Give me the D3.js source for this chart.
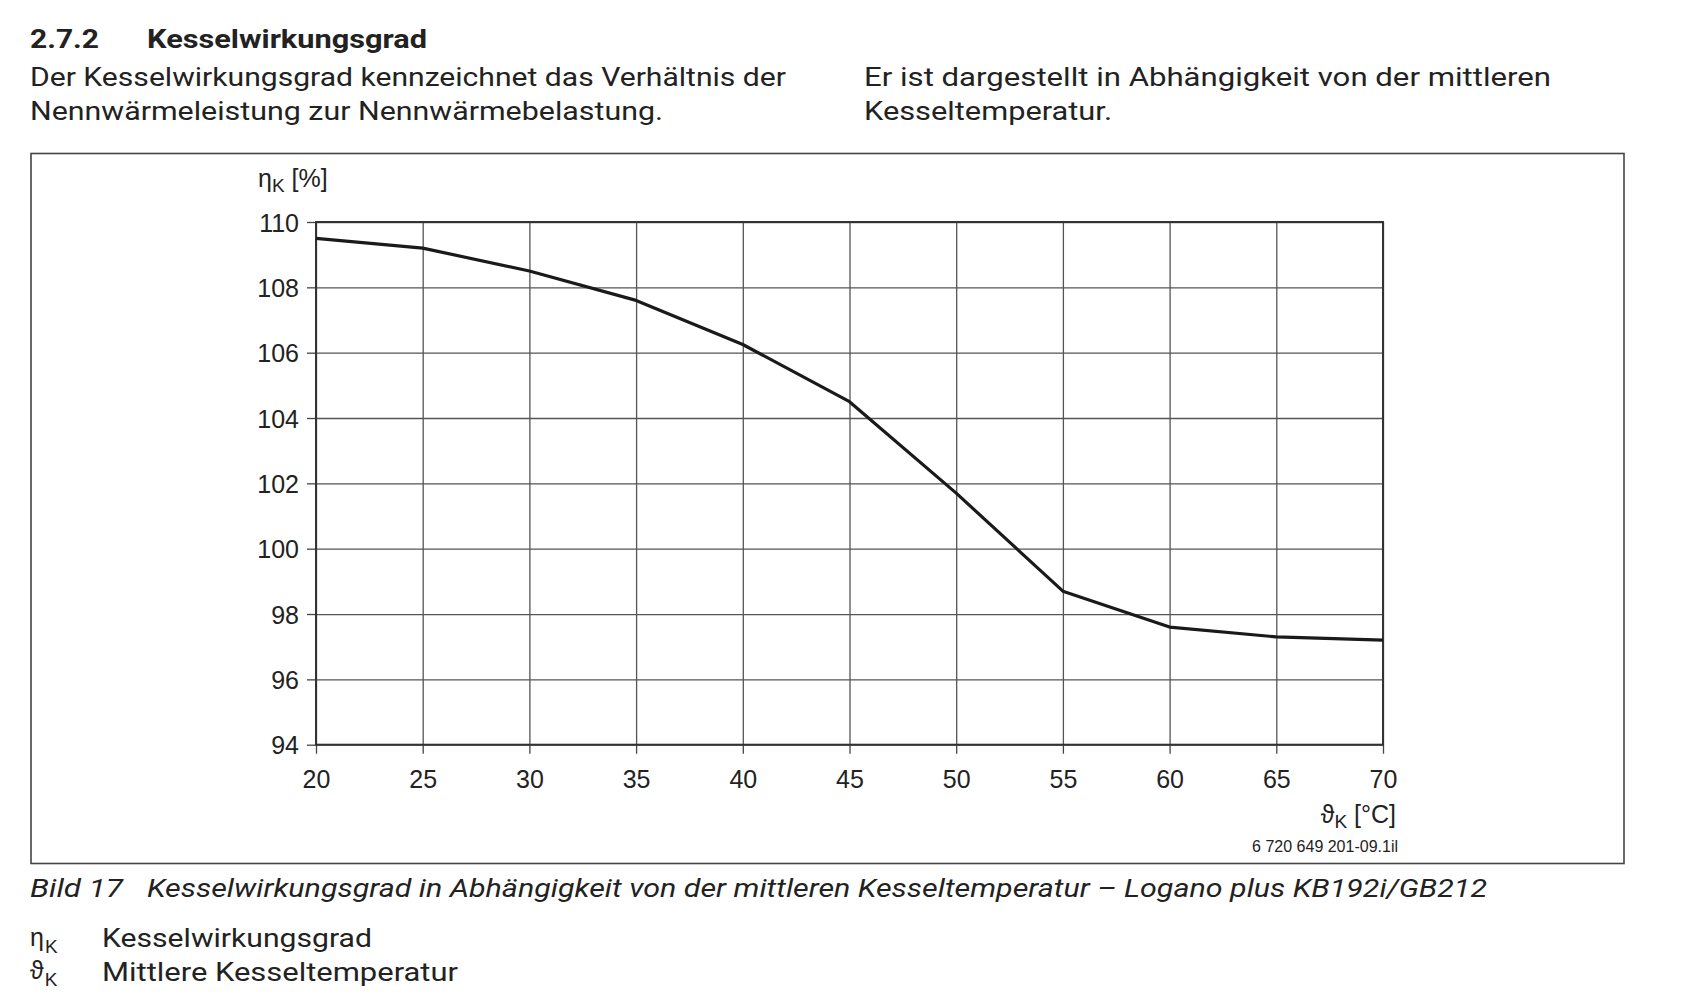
<!DOCTYPE html>
<html><head><meta charset="utf-8">
<script src="https://cdn.jsdelivr.net/npm/d3@7"></script>
<style>
html,body{margin:0;padding:0;background:#fff;}
svg{display:block;}
.body{font-family:"Roboto","Open Sans",sans-serif;fill:#222;}
.ax{font-family:"Liberation Sans",Arial,sans-serif;fill:#222;}
</style></head>
<body>
<svg id="c" width="1683" height="995"></svg>
<script>
// ---- data ----
const temperature = [20, 25, 30, 35, 40, 45, 50, 55, 60, 65, 70];
const efficiency = [109.5, 109.2, 108.5, 107.6, 106.25, 104.5, 101.7, 98.7, 97.6, 97.3, 97.2];
const xTicks = [20, 25, 30, 35, 40, 45, 50, 55, 60, 65, 70];
const yTicks = [94, 96, 98, 100, 102, 104, 106, 108, 110];

const svg = d3.select("#c");
svg.append("rect").attr("width",1683).attr("height",995).attr("fill","#fff");

// ---- page text ----
function txt(x, y, s, size, opts = {}) {
  const t = svg.append("text").attr("class","body").attr("x",x).attr("y",y)
    .attr("font-size",size).text(s);
  if (opts.weight) t.attr("font-weight",opts.weight);
  if (opts.style) t.attr("font-style",opts.style);
  if (opts.len) t.attr("textLength",opts.len).attr("lengthAdjust","spacingAndGlyphs");
  return t;
}
txt(30, 48, "2.7.2", 25, {weight:"bold", len:69});
txt(147, 48, "Kesselwirkungsgrad", 25, {weight:"bold", len:280});
txt(30, 86, "Der Kesselwirkungsgrad kennzeichnet das Verhältnis der", 25, {len:756});
txt(30, 120, "Nennwärmeleistung zur Nennwärmebelastung.", 25, {len:633});
txt(864, 86, "Er ist dargestellt in Abhängigkeit von der mittleren", 25, {len:687});
txt(864, 120, "Kesseltemperatur.", 25, {len:248});

txt(30, 897, "Bild 17", 25, {style:"italic", len:93});
txt(147, 897, "Kesselwirkungsgrad in Abhängigkeit von der mittleren Kesseltemperatur – Logano plus KB192i/GB212", 25, {style:"italic", len:1340});

// legend symbols
function sym(x, y, gl) {
  const t = svg.append("text").attr("class","ax").attr("x",x).attr("y",y).attr("font-size",25);
  t.append("tspan").text(gl);
  t.append("tspan").attr("font-size",19).attr("dy",7).attr("dx",1).text("K");
  return t;
}
sym(30, 946, "η");
txt(102, 947, "Kesselwirkungsgrad", 25, {len:270});
sym(30, 979, "ϑ");
txt(102, 981, "Mittlere Kesseltemperatur", 25, {len:356});

// outer frame
svg.append("rect").attr("x",31).attr("y",153.5).attr("width",1593).attr("height",710)
  .attr("fill","none").attr("stroke","#444").attr("stroke-width",1.6);

// ---- chart ----
const L = 316, R = 1383, T = 222, B = 744.7;
const x = d3.scaleLinear().domain([20,70]).range([L,R]);
const y = d3.scaleLinear().domain([94,110]).range([B,T]);

const g = svg.append("g");
// grid
g.append("g").attr("transform",`translate(0,${B})`)
  .call(d3.axisBottom(x).tickValues(xTicks).tickSize(-(B-T)).tickFormat(""))
  .call(s=>s.select(".domain").remove())
  .call(s=>s.selectAll("line").attr("stroke","#555").attr("stroke-width",1.3));
g.append("g").attr("transform",`translate(${L},0)`)
  .call(d3.axisLeft(y).tickValues(yTicks).tickSize(-(R-L)).tickFormat(""))
  .call(s=>s.select(".domain").remove())
  .call(s=>s.selectAll("line").attr("stroke","#555").attr("stroke-width",1.3));

// axes with ticks + labels
const ya = g.append("g").attr("transform",`translate(${L},0)`)
  .call(d3.axisLeft(y).tickValues(yTicks).tickSize(9).tickPadding(8));
ya.select(".domain").remove();
ya.selectAll("line").attr("stroke","#444").attr("stroke-width",1.3);
ya.selectAll("text").attr("font-size",25).attr("fill","#222")
  .attr("font-family","Liberation Sans, Arial, sans-serif").attr("dy","0.36em");

const xa = g.append("g").attr("transform",`translate(0,${B})`)
  .call(d3.axisBottom(x).tickValues(xTicks).tickSize(9).tickPadding(17));
xa.select(".domain").remove();
xa.selectAll("line").attr("stroke","#444").attr("stroke-width",1.3);
xa.selectAll("text").attr("font-size",25).attr("fill","#222")
  .attr("font-family","Liberation Sans, Arial, sans-serif");

// plot frame
g.append("rect").attr("x",L).attr("y",T).attr("width",R-L).attr("height",B-T)
  .attr("fill","none").attr("stroke","#333").attr("stroke-width",2);

// curve
const line = d3.line().x((d,i)=>x(temperature[i])).y(d=>y(d));
g.append("path").datum(efficiency).attr("d",line)
  .attr("fill","none").attr("stroke","#1a1a1a").attr("stroke-width",3.2)
  .attr("stroke-linejoin","round");

// axis titles
const yt = g.append("text").attr("class","ax").attr("x",258).attr("y",187).attr("font-size",25);
yt.append("tspan").text("η");
yt.append("tspan").attr("font-size",19).attr("dy",5).text("K");
yt.append("tspan").attr("dy",-5).text(" [%]");

const xt = g.append("text").attr("class","ax").attr("x",1396).attr("y",823).attr("font-size",25)
  .attr("text-anchor","end");
xt.append("tspan").text("ϑ");
xt.append("tspan").attr("font-size",19).attr("dy",5).text("K");
xt.append("tspan").attr("dy",-5).text(" [°C]");

g.append("text").attr("class","ax").attr("x",1398).attr("y",852).attr("font-size",16)
  .attr("text-anchor","end").text("6 720 649 201-09.1il");
</script>
</body></html>
